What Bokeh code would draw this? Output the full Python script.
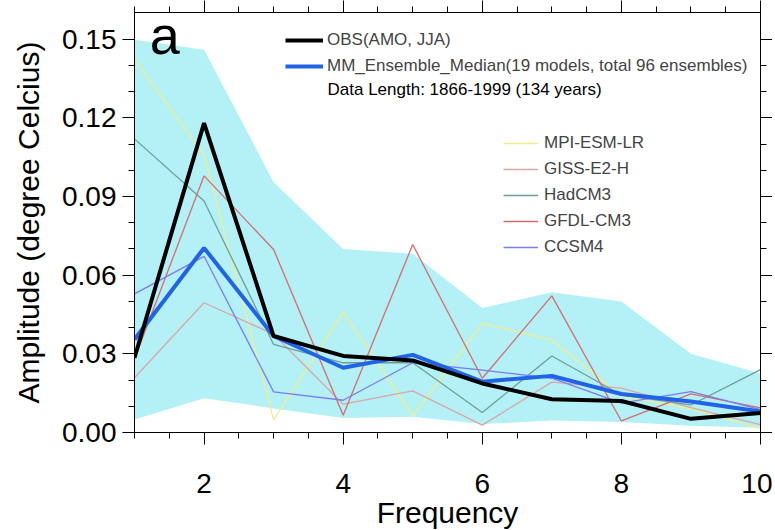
from bokeh.plotting import figure
from bokeh.models import (LinearAxis, FixedTicker, PrintfTickFormatter, Legend,
                          LegendItem, Label, Range1d)
from bokeh.embed import file_html
from bokeh.resources import INLINE

# ---------------- data ----------------
freq = [1, 2, 3, 4, 5, 6, 7, 8, 9, 10]
obs = [0.0285, 0.1180, 0.0368, 0.0292, 0.0275, 0.0187, 0.0127, 0.0120, 0.0052, 0.0074]
median = [0.0355, 0.0704, 0.0368, 0.0247, 0.0296, 0.0194, 0.0216, 0.0147, 0.0118, 0.0080]
band_upper = [0.1498, 0.1460, 0.0955, 0.0700, 0.0682, 0.0475, 0.0535, 0.0500, 0.0300, 0.0225]
band_lower = [0.0050, 0.0131, 0.0092, 0.0055, 0.0060, 0.0032, 0.0046, 0.0040, 0.0026, 0.0018]
mpi_esm_lr = [0.1422, 0.1059, 0.0048, 0.0459, 0.0063, 0.0416, 0.0353, 0.0140, 0.0090, 0.0016]
giss_e2_h = [0.0209, 0.0495, 0.0375, 0.0108, 0.0159, 0.0028, 0.0192, 0.0169, 0.0095, 0.0030]
hadcm3 = [0.1120, 0.0883, 0.0336, 0.0266, 0.0266, 0.0076, 0.0292, 0.0143, 0.0105, 0.0240]
gfdl_cm3 = [0.0280, 0.0979, 0.0698, 0.0066, 0.0717, 0.0207, 0.0521, 0.0044, 0.0147, 0.0094]
ccsm4 = [0.0529, 0.0672, 0.0155, 0.0123, 0.0266, 0.0238, 0.0207, 0.0112, 0.0156, 0.0087]

model_names = ["MPI-ESM-LR", "GISS-E2-H", "HadCM3", "GFDL-CM3", "CCSM4"]
model_values = [mpi_esm_lr, giss_e2_h, hadcm3, gfdl_cm3, ccsm4]
model_colors = ["#F2EE8C", "#DBA6A6", "#6F9E96", "#D66C6C", "#7C7CF2"]

x_ticks = [2, 4, 6, 8, 10]
x_minor = [1, 1.5, 2.5, 3, 3.5, 4.5, 5, 5.5, 6.5, 7, 7.5, 8.5, 9, 9.5]
y_ticks = [0.00, 0.03, 0.06, 0.09, 0.12, 0.15]
y_minor = [0.01, 0.02, 0.04, 0.05, 0.07, 0.08, 0.10, 0.11, 0.13, 0.14]

FONT = "Liberation Sans"

p = figure(width=772, height=530, output_backend="svg", toolbar_location=None,
           x_range=Range1d(1, 10), y_range=Range1d(0, 0.1602),
           frame_width=626, frame_height=420,
           min_border_left=134, min_border_top=12, min_border_right=12,
           min_border_bottom=10)
p.xgrid.visible = False
p.ygrid.visible = False
p.outline_line_color = "black"
p.background_fill_color = "white"
p.border_fill_color = "white"

# band
p.varea(x=freq, y1=band_lower, y2=band_upper, fill_color="#B3F1F6")

# models
model_renderers = []
for name, vals, col in zip(model_names, model_values, model_colors):
    r = p.line(freq, vals, line_color=col, line_width=1.3)
    model_renderers.append(r)

r_med = p.line(freq, median, line_color="#2062E8", line_width=4)
r_obs = p.line(freq, obs, line_color="black", line_width=4)

# axes
def style_axis(ax, labels=True):
    ax.axis_line_color = "black"
    ax.major_tick_line_color = "black"
    ax.minor_tick_line_color = "black"
    ax.major_tick_in = 0
    ax.minor_tick_in = 0
    ax.major_label_text_font = FONT
    ax.axis_label_text_font = FONT
    ax.axis_label_text_font_style = "normal"
    ax.major_label_text_color = "black"
    ax.axis_label_text_color = "black"
    if not labels:
        ax.major_label_overrides = {t: "" for t in ax.ticker.ticks}
        ax.major_label_text_font_size = "1px"
        ax.major_label_standoff = 0

xb = p.xaxis[0]
xb.ticker = FixedTicker(ticks=x_ticks, minor_ticks=x_minor)
style_axis(xb)
xb.major_tick_out = 12
xb.minor_tick_out = 6
xb.major_label_text_font_size = "28px"
xb.major_label_standoff = 29
xb.axis_label = "Frequency"
xb.axis_label_text_font_size = "30px"
xb.axis_label_standoff = 0

yl = p.yaxis[0]
yl.ticker = FixedTicker(ticks=y_ticks, minor_ticks=y_minor)
yl.formatter = PrintfTickFormatter(format="%.2f")
style_axis(yl)
yl.major_tick_out = 12
yl.minor_tick_out = 6
yl.major_label_text_font_size = "28px"
yl.major_label_standoff = 6
yl.axis_label = "Amplitude (degree Celcius)"
yl.axis_label_text_font_size = "30px"
yl.axis_label_standoff = 14

xt = LinearAxis(ticker=FixedTicker(ticks=x_ticks, minor_ticks=x_minor))
style_axis(xt, labels=False)
xt.major_tick_out = 12
xt.minor_tick_out = 6
p.add_layout(xt, "above")

yr = LinearAxis(ticker=FixedTicker(ticks=y_ticks, minor_ticks=y_minor))
style_axis(yr, labels=False)
yr.major_tick_out = 12
yr.minor_tick_out = 6
p.add_layout(yr, "right")

# legends
leg1 = Legend(items=[LegendItem(label="OBS(AMO, JJA)", renderers=[r_obs]),
                     LegendItem(label="MM_Ensemble_Median(19 models, total 96 ensembles)",
                                renderers=[r_med])],
              location=(151, 356), orientation="vertical",
              glyph_width=38, glyph_height=20, label_height=20, spacing=6,
              label_standoff=4, padding=0, margin=0,
              border_line_color=None, background_fill_alpha=0,
              label_text_font=FONT, label_text_font_size="17px")
p.add_layout(leg1)

leg2 = Legend(items=[LegendItem(label=n, renderers=[r]) for n, r in zip(model_names, model_renderers)],
              location=(369, 175), orientation="vertical",
              glyph_width=35, glyph_height=20, label_height=20, spacing=6,
              label_standoff=6, padding=0, margin=0,
              border_line_color=None, background_fill_alpha=0,
              label_text_font=FONT, label_text_font_size="17px")
p.add_layout(leg2)

p.add_layout(Label(x=1.22, y=0.1307, text="", text_font=FONT, text_font_size="1px")) if False else None
p.add_layout(Label(x=3.775, y=0.1307, text="Data Length: 1866-1999 (134 years)",
                   text_font=FONT, text_font_size="17px", text_baseline="middle",
                   text_color="black"))
p.add_layout(Label(x=1.22, y=0.1518, text="a", text_font=FONT,
                   text_font_size="54px", text_baseline="middle", text_color="black"))

open("out.html", "w").write(file_html(p, INLINE))
